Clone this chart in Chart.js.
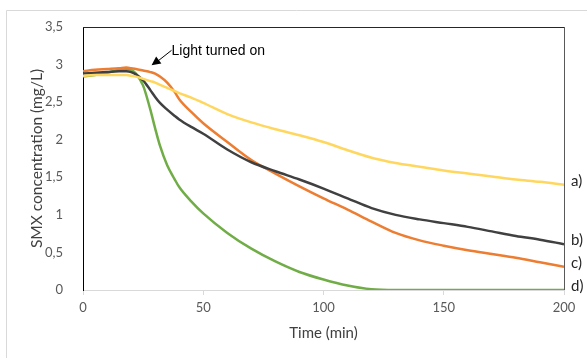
<!DOCTYPE html>
<html>
<head>
<meta charset="utf-8">
<script src="https://cdn.jsdelivr.net/npm/chart.js@4.4.1/dist/chart.umd.min.js"></script>
<style>
    html, body { margin: 0; padding: 0; background: #ffffff; }
    .wrap { position: relative; width: 587px; height: 358px; }
</style>
</head>
<body>
<div class="wrap"><canvas id="smxChart" width="587" height="358"></canvas></div>
<script>
const times = [0, 5, 10, 15, 18, 20, 22, 25, 28, 30, 32, 35, 38, 40, 45, 50, 60, 70, 80, 90, 100, 110, 120, 130, 140, 150, 160, 170, 180, 190, 200];

const seriesA = [2.85, 2.86, 2.86, 2.86, 2.86, 2.85, 2.84, 2.81, 2.78, 2.76, 2.73, 2.69, 2.65, 2.62, 2.56, 2.49, 2.34, 2.23, 2.14, 2.06, 1.97, 1.86, 1.76, 1.69, 1.64, 1.59, 1.55, 1.51, 1.47, 1.44, 1.40];
const seriesB = [2.88, 2.89, 2.90, 2.91, 2.91, 2.90, 2.87, 2.79, 2.66, 2.57, 2.49, 2.40, 2.32, 2.27, 2.17, 2.08, 1.87, 1.70, 1.58, 1.47, 1.35, 1.22, 1.09, 1.00, 0.94, 0.89, 0.84, 0.78, 0.72, 0.67, 0.61];
const seriesC = [2.91, 2.93, 2.94, 2.95, 2.96, 2.95, 2.94, 2.92, 2.90, 2.88, 2.84, 2.76, 2.64, 2.54, 2.37, 2.22, 1.97, 1.73, 1.55, 1.38, 1.22, 1.07, 0.91, 0.76, 0.66, 0.59, 0.53, 0.48, 0.43, 0.37, 0.31];
const seriesD = [2.84, 2.86, 2.89, 2.93, 2.94, 2.93, 2.88, 2.72, 2.40, 2.15, 1.92, 1.66, 1.48, 1.37, 1.18, 1.02, 0.76, 0.55, 0.38, 0.24, 0.14, 0.06, 0.01, 0, 0, 0, 0, 0, 0, 0, 0];

const seriesNames = ["a)", "b)", "c)", "d)"];
const xTickLabels = ["0", "50", "100", "150", "200"];
const yTickLabels = ["0", "0,5", "1", "1,5", "2", "2,5", "3", "3,5"];

const annotationText = "Light turned on";

const lineColors = ["#FFD75E", "#404040", "#ED7D31", "#70AD47"];

function toPoints(values) {
    return values.map((value, index) => ({ x: times[index], y: value }));
}

// frame, plot box top/right lines, end labels and the arrow note
const decorations = {
    id: "decorations",
    beforeDraw(chart) {
        const { ctx } = chart;
        ctx.save();
        ctx.strokeStyle = "#D9D9D9";
        ctx.lineWidth = 1;
        ctx.beginPath();
        ctx.moveTo(6.5, 358);
        ctx.lineTo(6.5, 10.5);
        ctx.lineTo(587, 10.5);
        ctx.stroke();
        ctx.restore();
    },
    afterDraw(chart) {
        const { ctx, chartArea, scales } = chart;
        ctx.save();
        ctx.lineWidth = 1;
        ctx.strokeStyle = "#262626";
        ctx.beginPath();
        ctx.moveTo(chartArea.left, chartArea.top + 0.5);
        ctx.lineTo(chartArea.right, chartArea.top + 0.5);
        ctx.stroke();
        ctx.strokeStyle = "#595959";
        ctx.beginPath();
        ctx.moveTo(chartArea.right + 0.5, chartArea.top);
        ctx.lineTo(chartArea.right + 0.5, chartArea.bottom);
        ctx.stroke();

        ctx.fillStyle = "#262626";
        ctx.font = "15px Lato, sans-serif";
        ctx.textBaseline = "middle";
        ctx.textAlign = "left";
        chart.data.datasets.forEach((dataset) => {
            const last = dataset.data[dataset.data.length - 1];
            ctx.fillText(dataset.label, chartArea.right + 7, scales.y.getPixelForValue(last.y) - 4);
        });

        // annotation with arrow
        const tipX = scales.x.getPixelForValue(28.5);
        const tipY = scales.y.getPixelForValue(2.99);
        const tailX = tipX + 20;
        const tailY = tipY - 15;
        ctx.strokeStyle = "#000000";
        ctx.beginPath();
        ctx.moveTo(tailX, tailY);
        ctx.lineTo(tipX + 6, tipY - 4);
        ctx.stroke();
        const angle = Math.atan2(tipY - tailY, tipX - tailX);
        ctx.fillStyle = "#000000";
        ctx.beginPath();
        ctx.moveTo(tipX, tipY);
        ctx.lineTo(tipX - 10 * Math.cos(angle - 0.45), tipY - 10 * Math.sin(angle - 0.45));
        ctx.lineTo(tipX - 10 * Math.cos(angle + 0.45), tipY - 10 * Math.sin(angle + 0.45));
        ctx.closePath();
        ctx.fill();

        ctx.font = "14px 'Liberation Sans', Arial, sans-serif";
        ctx.textBaseline = "alphabetic";
        ctx.fillText(annotationText, tailX, tailY + 5);
        ctx.restore();
    }
};

new Chart(document.getElementById("smxChart"), {
    type: "line",
    data: {
        datasets: [seriesA, seriesB, seriesC, seriesD].map((values, index) => ({
            label: seriesNames[index],
            data: toPoints(values),
            borderColor: lineColors[index],
            borderWidth: 2.5,
            pointRadius: 0,
            fill: false,
            cubicInterpolationMode: "monotone"
        }))
    },
    options: {
        responsive: false,
        animation: false,
        layout: { padding: { left: 0, top: 27, right: 23, bottom: 0 } },
        plugins: {
            legend: { display: false },
            tooltip: { enabled: false }
        },
        scales: {
            x: {
                type: "linear",
                min: 0,
                max: 200,
                afterFit: (scale) => { scale.height = 68; },
                afterBuildTicks: (scale) => {
                    scale.ticks = xTickLabels.map((label) => ({ value: Number(label) }));
                },
                border: { color: "#D9D9D9", width: 1 },
                grid: { drawOnChartArea: false, drawTicks: true, tickLength: 5, color: "#D9D9D9" },
                ticks: {
                    color: "#595959",
                    font: { family: "Lato", size: 13 },
                    padding: 5,
                    maxRotation: 0,
                    callback: (value, index) => xTickLabels[index]
                },
                title: {
                    display: true,
                    text: "Time (min)",
                    color: "#404040",
                    font: { family: "Lato", size: 15 },
                    padding: { bottom: 16 }
                }
            },
            y: {
                min: 0,
                max: 3.5,
                afterFit: (scale) => { scale.width = 83; },
                afterBuildTicks: (scale) => {
                    scale.ticks = yTickLabels.map((label, index) => ({ value: index * 0.5 }));
                },
                border: { color: "#000000", width: 1 },
                grid: { display: false },
                ticks: {
                    color: "#595959",
                    font: { family: "Lato", size: 13 },
                    padding: 12,
                    callback: (value, index) => yTickLabels[index]
                },
                title: {
                    display: true,
                    text: "SMX concentration (mg/L)",
                    color: "#404040",
                    font: { family: "Lato", size: 15.5 },
                    padding: { top: 28 }
                }
            }
        }
    },
    plugins: [decorations]
});
</script>
</body>
</html>
